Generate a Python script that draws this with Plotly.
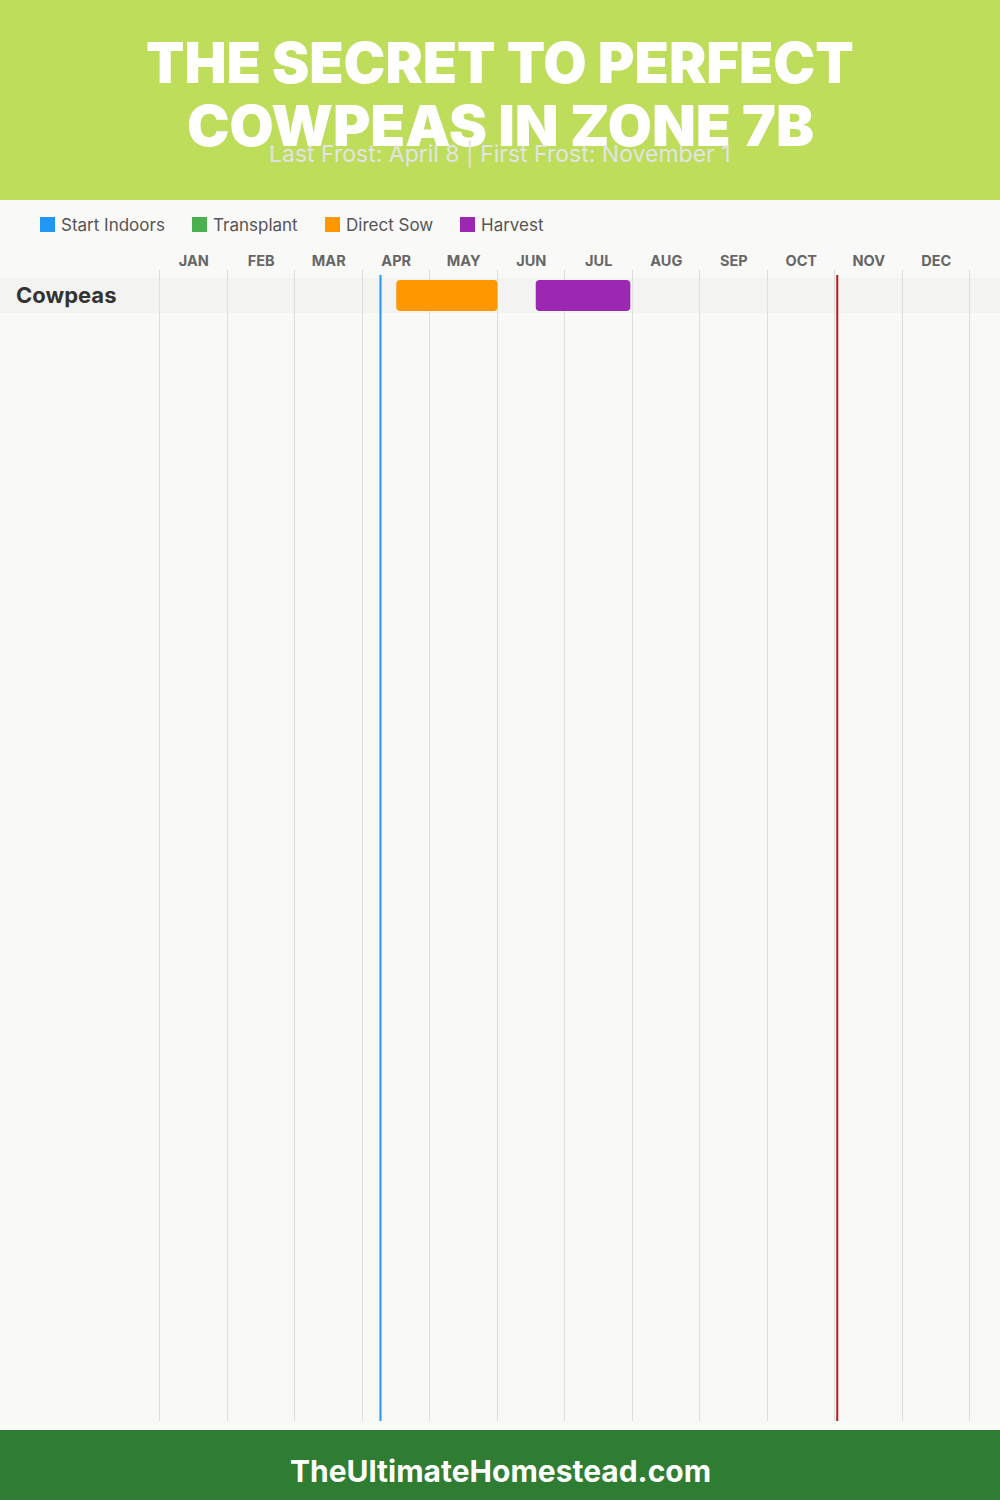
import calendar
import plotly.graph_objects as go

# ---------------- data ----------------
months = ["JAN", "FEB", "MAR", "APR", "MAY", "JUN", "JUL", "AUG", "SEP", "OCT", "NOV", "DEC"]
crops = ["Cowpeas"]
series_names = ["Start Indoors", "Transplant", "Direct Sow", "Harvest"]
series_colors = ["#2196F3", "#4CAF50", "#FF9800", "#9C27B0"]
# (start, end) as "MM-DD" per crop; None when not applicable
start_indoors = [None]
transplant = [None]
direct_sow = [("04-15", "05-31")]
harvest = [("06-17", "07-30")]
last_frost = "04-08"
first_frost = "11-01"

title_lines = ["THE SECRET TO PERFECT", "COWPEAS IN ZONE 7B"]
subtitle = "Last Frost: April 8 | First Frost: November 1"
footer = "TheUltimateHomestead.com"


def mfrac(md):
    m, d = (int(v) for v in md.split("-"))
    return (m - 1) + d / calendar.monthrange(2023, m)[1]


W, H = 1000, 1500
BG = "#F9F9F7"
HEADER = "#BDDD5B"
FOOTER_C = "#2E7D32"
FONT = "Inter, Open Sans, Roboto, sans-serif"

# plot area in pixels
PAD = 0.05
MONTH_PX = 67.5
GX0, GX1 = 160 - PAD * MONTH_PX, 970 + PAD * MONTH_PX
GY0, GY1 = 270, 1421
ROW_PX = 35
ROW0_CENTER = 295.5
rows_top = -(ROW0_CENTER - GY0) / ROW_PX
rows_bottom = rows_top + (GY1 - GY0) / ROW_PX


def py(p):
    return 1 - p / H


fig = go.Figure()

all_series = [start_indoors, transplant, direct_sow, harvest]
for name, color, ser in zip(series_names, series_colors, all_series):
    ys, bases, lens = [], [], []
    for i, v in enumerate(ser):
        if v is None:
            continue
        s, e = mfrac(v[0]), mfrac(v[1])
        ys.append(i)
        bases.append(s)
        lens.append(e - s)
    fig.add_trace(go.Bar(
        orientation="h", y=ys, x=lens, base=bases, width=31 / ROW_PX,
        marker=dict(color=color, line=dict(width=0), cornerradius=4),
        name=name, showlegend=False, hoverinfo="skip",
    ))

shapes = []
# header / footer bands
shapes.append(dict(type="rect", xref="paper", yref="paper", x0=0, x1=1, y0=py(200), y1=1,
                   fillcolor=HEADER, line=dict(width=0), layer="below"))
shapes.append(dict(type="rect", xref="paper", yref="paper", x0=0, x1=1, y0=0, y1=py(1430),
                   fillcolor=FOOTER_C, line=dict(width=0), layer="below"))
# row bands
for i, _ in enumerate(crops):
    shapes.append(dict(type="rect", xref="paper", yref="y", x0=0, x1=1, y0=i - 0.5, y1=i + 0.5,
                       fillcolor="#F3F3F2", line=dict(width=0), layer="between"))
# frost lines
for val, col in [(last_frost, "#2196F3"), (first_frost, "#B71C1C")]:
    x = mfrac(val)
    shapes.append(dict(type="line", xref="x", yref="paper", x0=x, x1=x, y0=py(GY1), y1=py(275),
                       line=dict(color=col, width=2), layer="above"))

annotations = []
# title
annotations.append(dict(text=title_lines[0], x=0.5, y=py(63), xref="paper", yref="paper",
                        showarrow=False, xanchor="center", yanchor="middle",
                        font=dict(family=FONT, size=56, color="white", weight=900)))
annotations.append(dict(text=title_lines[1], x=0.5, y=py(125), xref="paper", yref="paper",
                        showarrow=False, xanchor="center", yanchor="middle",
                        font=dict(family=FONT, size=57, color="white", weight=900)))
annotations.append(dict(text=subtitle, x=0.5, y=py(154), xref="paper", yref="paper",
                        showarrow=False, xanchor="center", yanchor="middle",
                        font=dict(family=FONT, size=23, color="#E4E4E4")))
# legend
leg_x = [40, 192, 325, 460]
for lx, name, color in zip(leg_x, series_names, series_colors):
    shapes.append(dict(type="rect", xref="paper", yref="paper", x0=lx / W, x1=(lx + 15) / W,
                       y0=py(232), y1=py(217), fillcolor=color, line=dict(width=0)))
    annotations.append(dict(text=name, x=(lx + 19) / W, y=py(225), xref="paper", yref="paper",
                            showarrow=False, xanchor="left", yanchor="middle",
                            font=dict(family=FONT, size=17, color="#555555")))
# crop labels
for i, c in enumerate(crops):
    annotations.append(dict(text=c, x=14 / W, y=i, xref="paper", yref="y",
                            showarrow=False, xanchor="left", yanchor="middle",
                            font=dict(family=FONT, size=22, color="#333333", weight=700)))
# footer
annotations.append(dict(text=footer, x=0.5, y=py(1471), xref="paper", yref="paper",
                        showarrow=False, xanchor="center", yanchor="middle",
                        font=dict(family=FONT, size=30, color="white", weight=700)))

fig.update_layout(
    width=W, height=H, margin=dict(l=0, r=0, t=0, b=0),
    paper_bgcolor=BG, plot_bgcolor=BG, barmode="overlay",
    shapes=shapes, annotations=annotations, showlegend=False,
    xaxis=dict(domain=[GX0 / W, GX1 / W], range=[-PAD, 12 + PAD], side="top",
               tickmode="array", tickvals=[m + 0.5 for m in range(12)], ticktext=months,
               tickfont=dict(family=FONT, size=14.5, color="#666666", weight=700),
               ticks="", showgrid=False, zeroline=False, showline=False, fixedrange=True,
               minor=dict(tickmode="array", tickvals=list(range(13)), showgrid=True,
                          gridcolor="#DDDDDD", gridwidth=1, ticks="")),
    yaxis=dict(domain=[py(GY1), py(GY0)], range=[rows_bottom, rows_top],
               showticklabels=False, showgrid=False, zeroline=False, showline=False,
               fixedrange=True),
)

fig.write_html("out.html", config={"displayModeBar": False},
               post_script="document.body.style.margin='0';")
